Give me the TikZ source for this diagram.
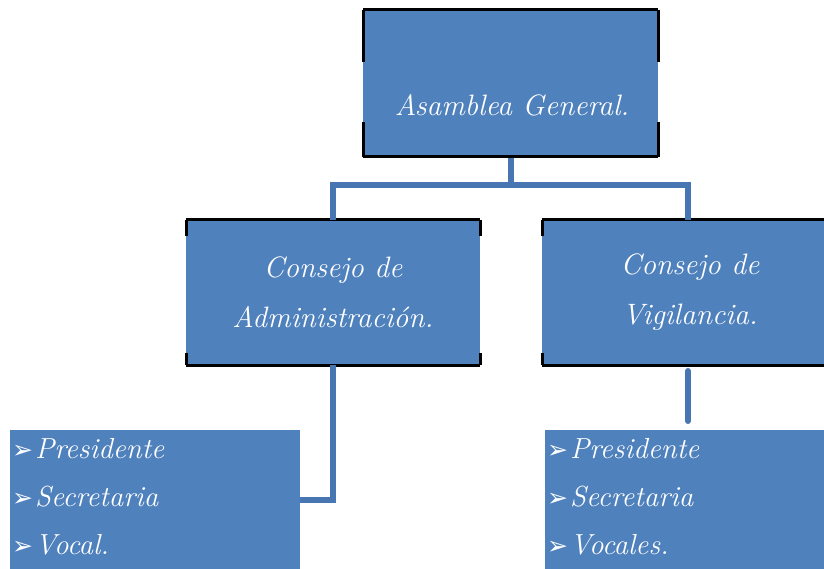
\documentclass[tikz,border=0pt]{standalone}
\usepackage{fontspec}
\newfontfamily\symfont{DejaVu Sans}
\usetikzlibrary{calc}
\definecolor{boxblue}{RGB}{79,129,189}
\definecolor{lineblue}{RGB}{72,118,178}
\newcommand{\bul}{{\symfont\fontsize{25}{25}\selectfont ➢}\hspace{2pt}}
\tikzset{
  bluebox/.style={rectangle, fill=boxblue, inner sep=0pt, outer sep=0pt},
  boxtext/.style={text=white, font=\itshape\fontsize{29.5}{50}\selectfont, align=center},
  listtext/.style={text=white, font=\itshape\fontsize{29}{48}\selectfont, align=left, anchor=north west, inner sep=0pt},
  frame/.style={line width=3pt, black},
  conn/.style={line width=6pt, lineblue}
}
\begin{document}
\begin{tikzpicture}[x=1pt,y=-1pt]
\useasboundingbox (0,0) rectangle (824,569);
% boxes
\node[bluebox, minimum width=295pt, minimum height=147pt] (ag) at (510.5,83.5) {};
\node[boxtext] (agt) at (512,105) {Asamblea General.};
\node[bluebox, minimum width=294pt, minimum height=145pt, boxtext] (ca) at (333,292.5) {Consejo de\\Administración.};
\node[bluebox, minimum width=282pt, minimum height=145pt] (cv) at (683,292.5) {};
\node[boxtext] (cvt) at (690,292.5) {Consejo de\\Vigilancia.};
\node[bluebox, minimum width=290pt, minimum height=139pt] (ll) at (155,499.5) {};
\node[bluebox, minimum width=279pt, minimum height=139pt] (rl) at (684.5,499.5) {};
\node[listtext] (llt) at (12,438) {\bul Presidente\\\bul Secretaria\\\bul Vocal.};
\node[listtext] (rlt) at (547,438) {\bul Presidente\\\bul Secretaria\\\bul Vocales.};
% frames
\draw[frame] (ag.north west) -- (ag.north east);
\draw[frame] (ag.south west) -- (ag.south east);
\draw[frame] (ag.north west) -- ++(0,52);
\draw[frame] (ag.north east) -- ++(0,52);
\draw[frame] (ag.south west) -- ++(0,-35);
\draw[frame] (ag.south east) -- ++(0,-35);
\draw[frame] (ca.north west) -- (ca.north east);
\draw[frame] (ca.south west) -- (ca.south east);
\draw[frame] (ca.north west) -- ++(0,16);
\draw[frame] (ca.north east) -- ++(0,16);
\draw[frame] (ca.south west) -- ++(0,-12);
\draw[frame] (ca.south east) -- ++(0,-12);
\draw[frame] (cv.north west) -- (cv.north east);
\draw[frame] (cv.south west) -- (cv.south east);
\draw[frame] (cv.north west) -- ++(0,16);
\draw[frame] (cv.south west) -- ++(0,-12);
% connectors
\coordinate (hub) at ($(ag.south)+(0,28)$);
\coordinate (cvin) at (688,220);
\draw[conn] ($(ag.south)+(0,1.5)$) -- (hub);
\draw[conn] (ca.north) |- (hub) -| (cvin);
\draw[conn] (ca.south) |- (ll.east);
\coordinate (cvout) at (688,371);
\coordinate (rlin) at (688,421);
\draw[conn, line cap=round] (cvout) -- (rlin);
\end{tikzpicture}
\end{document}
